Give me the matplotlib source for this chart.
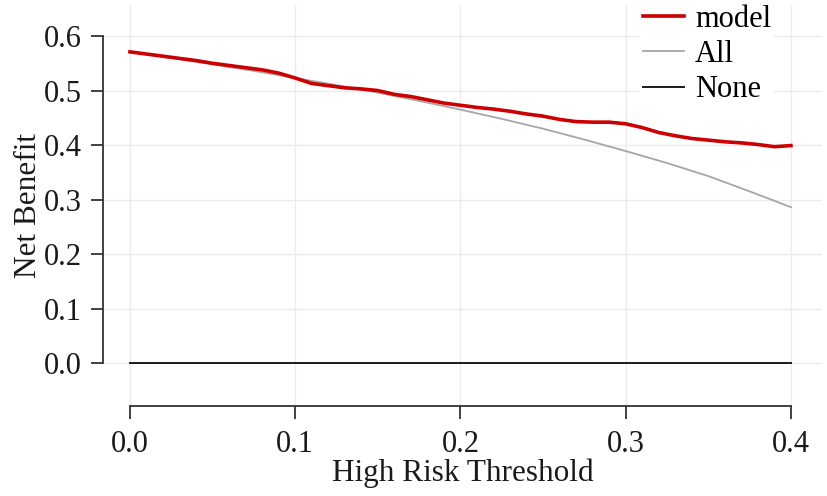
import matplotlib
matplotlib.use("Agg")
import matplotlib.pyplot as plt

plt.rcParams['font.family'] = ['Liberation Serif', 'DejaVu Serif']

# Data
thresholds = [0.00, 0.01, 0.02, 0.03, 0.04, 0.05, 0.06, 0.07, 0.08, 0.09,
              0.10, 0.11, 0.12, 0.13, 0.14, 0.15, 0.16, 0.17, 0.18, 0.19,
              0.20, 0.21, 0.22, 0.23, 0.24, 0.25, 0.26, 0.27, 0.28, 0.29,
              0.30, 0.31, 0.32, 0.33, 0.34, 0.35, 0.36, 0.37, 0.38, 0.39, 0.40]
model_nb = [0.571, 0.567, 0.563, 0.559, 0.555, 0.550, 0.546, 0.542, 0.538, 0.532,
            0.523, 0.513, 0.509, 0.505, 0.503, 0.500, 0.493, 0.489, 0.483, 0.477,
            0.473, 0.469, 0.466, 0.462, 0.457, 0.453, 0.447, 0.443, 0.442, 0.442,
            0.439, 0.432, 0.423, 0.417, 0.412, 0.409, 0.406, 0.404, 0.401, 0.397, 0.399]

all_t = [0.000, 0.025, 0.050, 0.075, 0.100, 0.125, 0.150, 0.175, 0.200,
         0.225, 0.250, 0.275, 0.300, 0.325, 0.350, 0.375, 0.400]
all_nb = [0.571, 0.560, 0.548, 0.536, 0.523, 0.510, 0.496, 0.481, 0.465,
          0.448, 0.430, 0.410, 0.389, 0.367, 0.343, 0.315, 0.286]

none_t = [0.0, 0.4]
none_nb = [0.0, 0.0]

xticks = [0.0, 0.1, 0.2, 0.3, 0.4]
yticks = [0.0, 0.1, 0.2, 0.3, 0.4, 0.5, 0.6]

fig = plt.figure(figsize=(8.27, 4.96), dpi=100)
ax = fig.add_axes([103/827, 1 - 406/496, 719/827, 401/496])

ax.plot(all_t, all_nb, color='#A6A6A6', lw=1.3, label='All', zorder=3)
ax.plot(none_t, none_nb, color='#1a1a1a', lw=1.4, label='None', zorder=3)
ax.plot(thresholds, model_nb, color='#CC0000', lw=2.6, label='model', zorder=4)

ax.set_xlim(-0.01634, 0.4188)
ax.set_ylim(-0.0789, 0.657)
ax.set_xticks(xticks)
ax.set_yticks(yticks)
ax.set_xticklabels([f"{v:.1f}" for v in xticks])
ax.set_yticklabels([f"{v:.1f}" for v in yticks])

ax.grid(True, color='#EBEBEB', lw=1.0, zorder=0)
ax.set_axisbelow(True)

for s in ['top', 'right']:
    ax.spines[s].set_visible(False)
ax.spines['left'].set_bounds(0, 0.6)
ax.spines['bottom'].set_bounds(0, 0.4)
for s in ['left', 'bottom']:
    ax.spines[s].set_color('#333333')
    ax.spines[s].set_linewidth(1.3)

ax.tick_params(axis='both', which='major', length=9, width=1.3, color='#333333',
               labelsize=22, labelcolor='#1a1a1a')
ax.tick_params(axis='y', pad=6)
ax.tick_params(axis='x', pad=8)

ax.set_xlabel('High Risk Threshold', fontsize=22.5, color='#1a1a1a', labelpad=0)
ax.set_ylabel('Net Benefit', fontsize=22.5, color='#1a1a1a', labelpad=1)

handles, labels = ax.get_legend_handles_labels()
order = [2, 0, 1]
leg = ax.legend([handles[i] for i in order], [labels[i] for i in order],
                loc='upper left', bbox_to_anchor=(640/827, 1 - 2/496), bbox_transform=fig.transFigure,
                fontsize=22, frameon=True, facecolor='white', edgecolor='white',
                framealpha=1.0, handlelength=1.34, handletextpad=0.36,
                labelspacing=0.2, borderpad=0.1, borderaxespad=0)
leg.get_frame().set_linewidth(0)

fig.savefig('out.png', dpi=100, facecolor='white')
